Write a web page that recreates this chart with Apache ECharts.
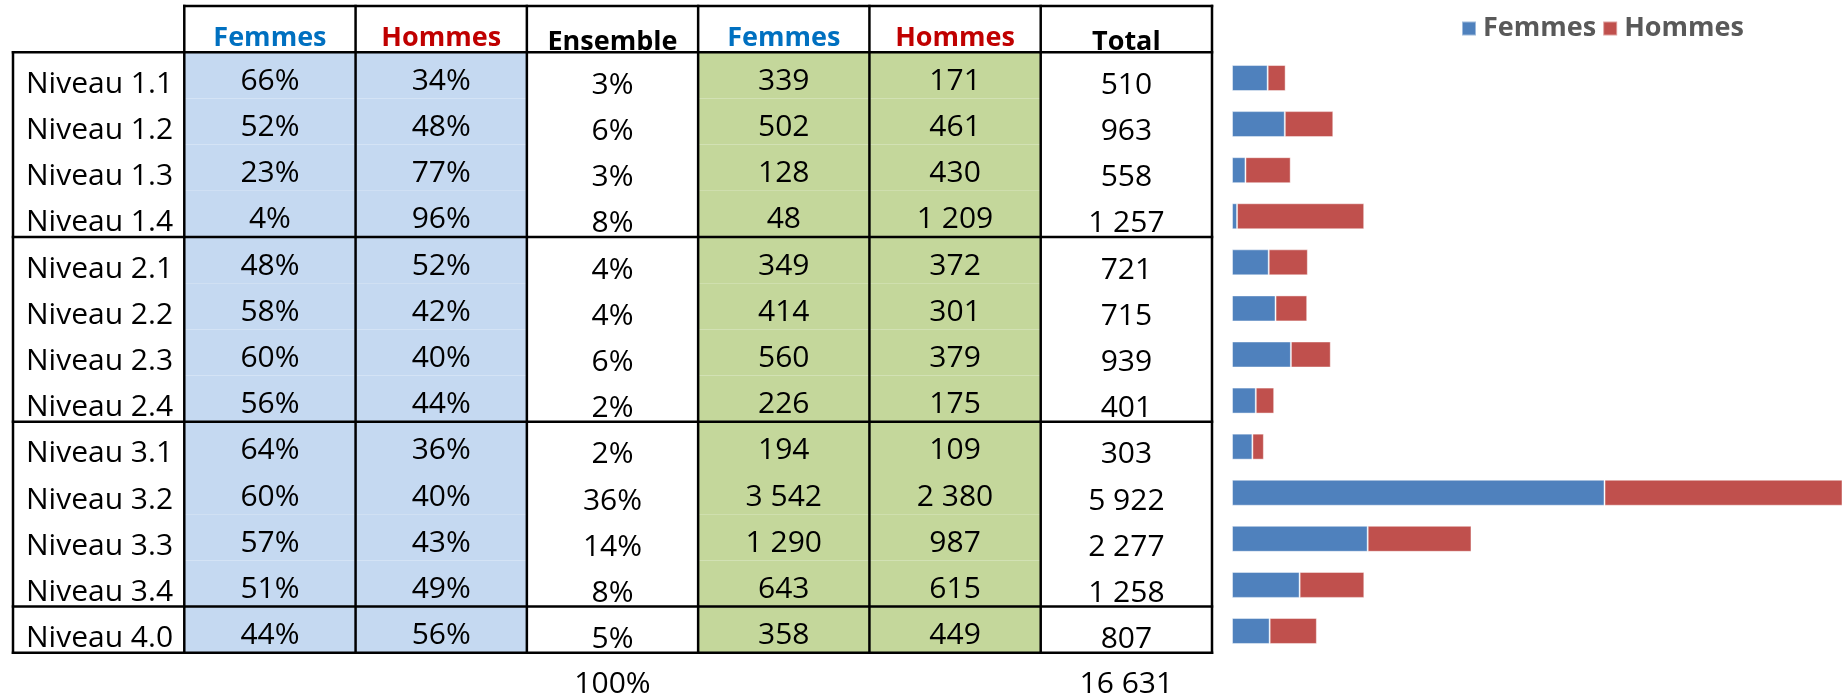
<!DOCTYPE html>
<html>
<head>
<meta charset="utf-8">
<title>Répartition Femmes / Hommes par niveau</title>
<script src="https://cdn.jsdelivr.net/npm/echarts@6/dist/echarts.min.js"></script>
<style>
html, body { margin: 0; padding: 0; background: #fff; }
#chart { width: 1842px; height: 699px; }
</style>
</head>
<body>
<div id="chart"></div>
<script>
const levels = ['Niveau 1.1', 'Niveau 1.2', 'Niveau 1.3', 'Niveau 1.4',
    'Niveau 2.1', 'Niveau 2.2', 'Niveau 2.3', 'Niveau 2.4',
    'Niveau 3.1', 'Niveau 3.2', 'Niveau 3.3', 'Niveau 3.4', 'Niveau 4.0'];
const headers = ['Femmes', 'Hommes', 'Ensemble', 'Femmes', 'Hommes', 'Total'];
const femmesPct = [66, 52, 23, 4, 48, 58, 60, 56, 64, 60, 57, 51, 44];
const hommesPct = [34, 48, 77, 96, 52, 42, 40, 44, 36, 40, 43, 49, 56];
const ensemblePct = [3, 6, 3, 8, 4, 4, 6, 2, 2, 36, 14, 8, 5];
const femmesNb = [339, 502, 128, 48, 349, 414, 560, 226, 194, 3542, 1290, 643, 358];
const hommesNb = [171, 461, 430, 1209, 372, 301, 379, 175, 109, 2380, 987, 615, 449];
const totalNb = [510, 963, 558, 1257, 721, 715, 939, 401, 303, 5922, 2277, 1258, 807];
const ensembleTotal = 100;
const grandTotal = 16631;
const groupSizes = [4, 4, 4, 1];

const FONT = '"Open Sans", "Noto Sans", sans-serif';
const BLUE_CELL = '#C5D9F1';
const GREEN_CELL = '#C4D79B';
const headerColors = ['#0070C0', '#C00000', '#000', '#0070C0', '#C00000', '#000'];

function fmt(n) {
    return String(n).replace(/\B(?=(\d{3})+(?!\d))/g, ' ');
}

// construction des cellules du tableau (col, row)
const cells = [];
headers.forEach(function (h, i) {
    cells.push({ col: i + 1, row: 0, text: h, color: headerColors[i],
        font: 'bold 27px ' + FONT, dy: (i === 2 || i === 5) ? 13 : 9 });
});
levels.forEach(function (lv, i) {
    const r = i + 1;
    cells.push({ col: 0, row: r, text: lv, font: '30px ' + FONT, dy: 9, left: true });
    cells.push({ col: 1, row: r, text: femmesPct[i] + '%', fill: BLUE_CELL, dy: 6 });
    cells.push({ col: 2, row: r, text: hommesPct[i] + '%', fill: BLUE_CELL, dy: 6 });
    cells.push({ col: 3, row: r, text: ensemblePct[i] + '%', dy: 10 });
    cells.push({ col: 4, row: r, text: fmt(femmesNb[i]), fill: GREEN_CELL, dy: 6 });
    cells.push({ col: 5, row: r, text: fmt(hommesNb[i]), fill: GREEN_CELL, dy: 6 });
    cells.push({ col: 6, row: r, text: fmt(totalNb[i]), dy: 10 });
});
cells.push({ col: 3, row: levels.length + 1, text: ensembleTotal + '%', dy: 9 });
cells.push({ col: 6, row: levels.length + 1, text: fmt(grandTotal), dy: 9 });

const colCats = ['c0', 'c1', 'c2', 'c3', 'c4', 'c5', 'c6'];
const rowCats = ['head'].concat(levels, ['foot']);

// traits du tableau, en unités de cellule
const hLines = [[0, 1, 7]];
const vLines = [[0, 1, levels.length + 1]];
for (let c = 1; c <= 7; c++) vLines.push([c, 0, levels.length + 1]);
let b = 1;
hLines.push([b, 0, 7]);
groupSizes.forEach(function (g) {
    b += g;
    hLines.push([b, 0, 7]);
});

const chart = echarts.init(document.getElementById('chart'));

chart.setOption({
    animation: false,
    backgroundColor: '#fff',
    legend: {
        data: ['Femmes', 'Hommes'],
        left: 1456,
        top: 10,
        icon: 'rect',
        itemWidth: 14,
        itemHeight: 14,
        itemGap: 6,
        selectedMode: false,
        textStyle: {
            color: '#595959',
            fontSize: 27,
            fontWeight: 'bold',
            fontFamily: FONT,
            padding: [0, 0, 0, 2]
        }
    },
    grid: [
        { left: 13, width: 1199, top: 6, height: 46.5 * rowCats.length },
        { left: 1232, right: 0, top: 55, height: 599 }
    ],
    xAxis: [
        { type: 'category', gridIndex: 0, data: colCats, show: false },
        { type: 'value', gridIndex: 1, min: 0, max: 5800, show: false }
    ],
    yAxis: [
        { type: 'category', gridIndex: 0, data: rowCats, inverse: true, show: false },
        { type: 'category', gridIndex: 1, data: levels, inverse: true, show: false }
    ],
    series: [
        {
            name: 'cellules',
            type: 'custom',
            xAxisIndex: 0,
            yAxisIndex: 0,
            clip: false,
            silent: true,
            data: cells.map(function (c) { return [c.col, c.row]; }),
            renderItem: function (params, api) {
                const c = cells[params.dataIndex];
                const p = api.coord([c.col, c.row]);
                const s = api.size([1, 1]);
                const children = [];
                if (c.fill) {
                    children.push({
                        type: 'rect',
                        shape: { x: p[0] - s[0] / 2, y: p[1] - s[1] / 2, width: s[0], height: s[1] },
                        style: { fill: c.fill }
                    });
                }
                children.push({
                    type: 'text',
                    style: {
                        text: c.text,
                        x: c.left ? p[0] - s[0] / 2 + 13 : p[0],
                        y: p[1] + c.dy,
                        align: c.left ? 'left' : 'center',
                        verticalAlign: 'middle',
                        fill: c.color || '#000',
                        font: c.font || ('30px ' + FONT)
                    }
                });
                return { type: 'group', children: children };
            }
        },
        {
            name: 'bordures',
            type: 'custom',
            xAxisIndex: 0,
            yAxisIndex: 0,
            clip: false,
            silent: true,
            z: 5,
            data: [[0, 0]],
            renderItem: function (params, api) {
                const p = api.coord([0, 0]);
                const s = api.size([1, 1]);
                const x0 = p[0] - s[0] / 2, y0 = p[1] - s[1] / 2;
                const st = { stroke: '#000', lineWidth: 2.5, lineCap: 'square' };
                const lines = [];
                hLines.forEach(function (l) {
                    lines.push({ type: 'line', style: st,
                        shape: { x1: x0 + l[1] * s[0], y1: y0 + l[0] * s[1], x2: x0 + l[2] * s[0], y2: y0 + l[0] * s[1] } });
                });
                vLines.forEach(function (l) {
                    lines.push({ type: 'line', style: st,
                        shape: { x1: x0 + l[0] * s[0], y1: y0 + l[1] * s[1], x2: x0 + l[0] * s[0], y2: y0 + l[2] * s[1] } });
                });
                return { type: 'group', children: lines };
            }
        },
        {
            name: 'Femmes',
            type: 'bar',
            xAxisIndex: 1,
            yAxisIndex: 1,
            stack: 'total',
            barWidth: 26,
            data: femmesNb,
            itemStyle: { color: '#4F81BD', borderColor: 'rgba(255,255,255,0.45)', borderWidth: 1 }
        },
        {
            name: 'Hommes',
            type: 'bar',
            xAxisIndex: 1,
            yAxisIndex: 1,
            stack: 'total',
            barWidth: 26,
            data: hommesNb,
            itemStyle: { color: '#C0504D', borderColor: 'rgba(255,255,255,0.45)', borderWidth: 1 }
        }
    ]
});
</script>
</body>
</html>
